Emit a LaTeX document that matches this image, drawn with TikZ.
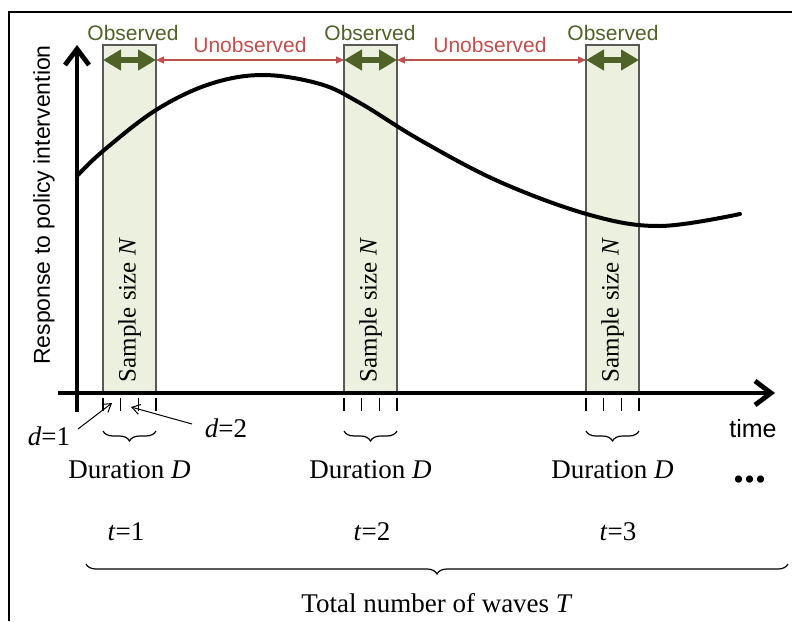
\documentclass[tikz,border=0pt]{standalone}
\usepackage{fontspec}
\setmainfont{Liberation Serif}
\setsansfont{Liberation Sans}
\usetikzlibrary{arrows.meta, decorations.pathreplacing}

\begin{document}
\begin{tikzpicture}[x=0.5pt, y=-0.5pt,
    every node/.style={inner sep=0pt, outer sep=0pt},
    sampleBox/.style={draw=boxBorder, fill=boxFill, line width=0.6pt},
    axisLine/.style={line width=2.4pt, -{Straight Barb[length=8pt, width=12pt, line width=2.4pt]}},
    obsArrow/.style={draw=obsColour, line width=3pt, {Triangle[length=9pt, width=10pt]}-{Triangle[length=9pt, width=10pt]}},
    unobsArrow/.style={draw=unobsColour, line width=0.6pt, {Triangle[length=4pt, width=3.5pt]}-{Triangle[length=4pt, width=3.5pt]}},
    obsLabel/.style={font=\sffamily\fontsize{10.5}{12}\selectfont, text=obsColour},
    unobsLabel/.style={font=\sffamily\fontsize{10.5}{12}\selectfont, text=unobsColour},
    serifLabel/.style={font=\fontsize{13.5}{15}\selectfont},
    tickMark/.style={line width=0.7pt},
    smallBrace/.style={decorate, decoration={brace, mirror, amplitude=5pt}, line width=0.6pt},
    dArrow/.style={line width=0.5pt, -{Straight Barb[length=4pt, width=5pt]}}]

    \definecolor{boxFill}{HTML}{EBF1DE}
    \definecolor{boxBorder}{HTML}{595959}
    \definecolor{obsColour}{HTML}{4F6228}
    \definecolor{unobsColour}{HTML}{C0504D}

    % Fix the page size
    \useasboundingbox (0,0) rectangle (792,621);

    % Draw the frame
    \draw[line width=1pt] (9,621) -- (9,12) -- (792,12);

    % Draw the observed waves
    \foreach \bx/\n in {103/1,344/2,586/3} {
        \draw[sampleBox] (\bx,45) rectangle (\bx+53,393);
        \node[font=\fontsize{12.5}{14}\selectfont, rotate=90] (size\n) at (\bx+26.5,310) {Sample size \textit{N}};
        \coordinate (L\n) at (\bx,60);
        \coordinate (R\n) at (\bx+53,60);
        \foreach \k in {0,...,3}
            \draw[tickMark] (\bx+17.67*\k,398) -- (\bx+17.67*\k,411);
        \draw[smallBrace] (\bx,431) -- (\bx+53,431);
        \node[serifLabel] (dur\n) at (\bx+26.5,470) {Duration \textit{D}};
    }

    % Draw the response curve
    \draw[line width=2pt, line cap=round] plot[smooth, tension=0.6] coordinates {
        (78,175) (103,151) (156,110) (210,84) (263,75) (320,84) (360,103)
        (420,140) (500,182) (590,215) (660,226) (740,214)};

    % Draw axes
    \coordinate (origin) at (77,412);
    \coordinate (yTip) at (77,45);
    \coordinate (xStart) at (58,393);
    \coordinate (xTip) at (775,393);
    \draw[axisLine] (origin) -- (yTip);
    \draw[axisLine] (xStart) -- (xTip);
    \node[font=\sffamily\fontsize{12.5}{14}\selectfont] (timeLabel) at (753,429) {time};
    \node[font=\sffamily\fontsize{11.5}{13}\selectfont, rotate=90] (yLabel) at (44,205) {Response to policy intervention};

    % Observed and unobserved periods
    \draw[obsArrow] (L1) -- (R1);
    \draw[obsArrow] (L2) -- (R2);
    \draw[obsArrow] (L3) -- (R3);
    \draw[unobsArrow] (R1) -- (L2);
    \draw[unobsArrow] (R2) -- (L3);
    \node[obsLabel] (obs1) at (133,33) {Observed};
    \node[obsLabel] (obs2) at (370,33) {Observed};
    \node[obsLabel] (obs3) at (613,33) {Observed};
    \node[unobsLabel] (unobs1) at (250,45) {Unobserved};
    \node[unobsLabel] (unobs2) at (490,45) {Unobserved};

    % Label the durations d
    \node[serifLabel] (d1) at (49,436) {\textit{d}=1};
    \node[serifLabel] (d2) at (226,428) {\textit{d}=2};
    \coordinate (d1Foot) at (78,429);
    \coordinate (d2Foot) at (192,424);
    \coordinate (d1Tip) at (112,403);
    \coordinate (d2Tip) at (131,407);
    \draw[dArrow] (d1Foot) -- (d1Tip);
    \draw[dArrow] (d2Foot) -- (d2Tip);

    % Waves
    \node[serifLabel] (t1) at (126,532) {\textit{t}=1};
    \node[serifLabel] (t2) at (372,532) {\textit{t}=2};
    \node[serifLabel] (t3) at (618,532) {\textit{t}=3};
    \node[font=\bfseries\fontsize{22}{24}\selectfont] (dots) at (750,480) {...};

    % Total number of waves
    \draw[smallBrace] (86,564) -- (788,564);
    \node[serifLabel] (total) at (437,603) {Total number of waves \textit{T}};

\end{tikzpicture}
\end{document}
